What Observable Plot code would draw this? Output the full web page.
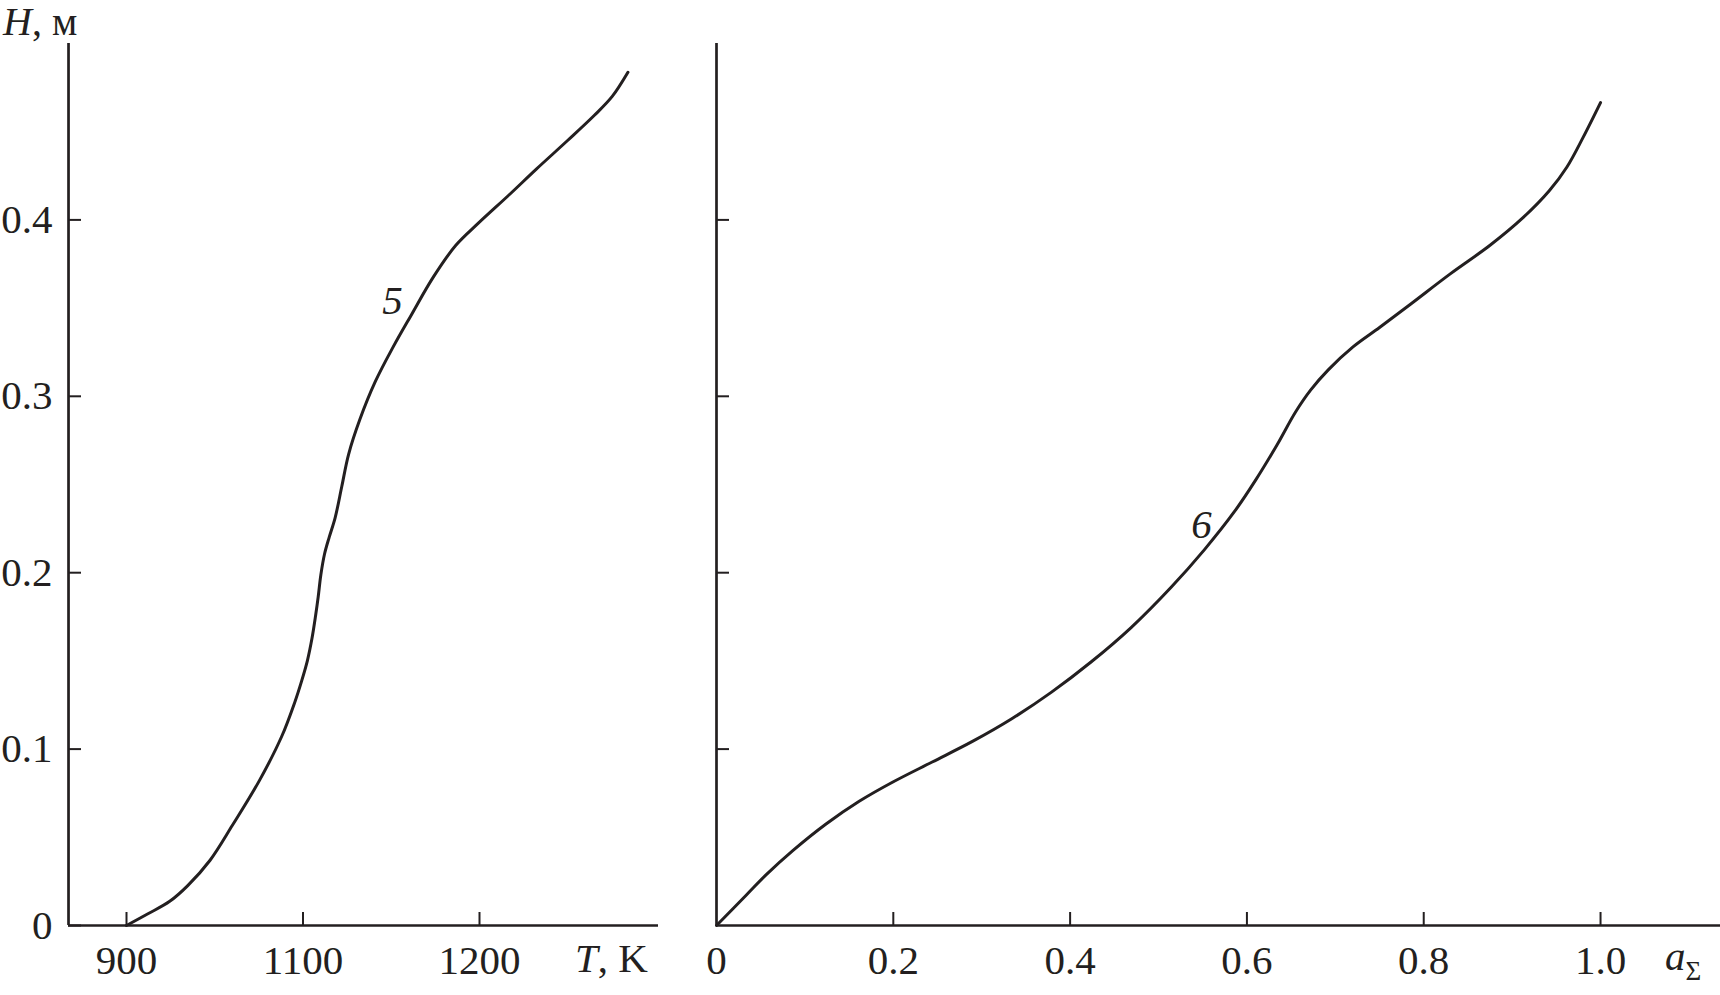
<!DOCTYPE html>
<html>
<head>
<meta charset="utf-8">
<script src="https://cdn.jsdelivr.net/npm/d3@7"></script>
<script src="https://cdn.jsdelivr.net/npm/@observablehq/plot@0.6"></script>
<style>
  html, body { margin: 0; padding: 0; background: #fff; }
  #wrap { position: relative; width: 1720px; height: 995px; background: #fff; overflow: hidden; }
  #wrap svg { position: absolute; top: 0; }
</style>
</head>
<body>
<div id="wrap"></div>
<script>
// ---- Data ----
// Curve 5: height H (m) versus temperature T (K)
const curve5T = [900, 923.8, 949, 969.4, 994.7, 1020, 1050.4, 1075.7, 1090.9, 1098.5, 1102.5, 1105.1, 1107.1, 1108.6, 1110.1, 1112.2, 1114.9, 1118.2, 1122, 1125.8, 1132.2, 1141, 1151.1, 1161.3, 1173.9, 1186.6, 1199.2, 1217, 1232.2, 1249.9, 1265.1, 1275.2, 1284.1];
const curve5H = [0, 0.0065, 0.0137, 0.0226, 0.037, 0.0568, 0.082, 0.107, 0.1269, 0.1387, 0.1502, 0.1628, 0.1754, 0.1862, 0.1987, 0.2106, 0.2203, 0.2311, 0.249, 0.267, 0.2868, 0.3084, 0.328, 0.346, 0.3677, 0.3856, 0.398, 0.4144, 0.4288, 0.445, 0.4593, 0.470, 0.4837];
// Curve 6: height H (m) versus a_Σ
const curve6A = [0, 0.0338, 0.0563, 0.0863, 0.1239, 0.1614, 0.199, 0.244, 0.289, 0.334, 0.379, 0.424, 0.469, 0.514, 0.552, 0.586, 0.61, 0.634, 0.655, 0.672, 0.692, 0.72, 0.75, 0.785, 0.830, 0.875, 0.912, 0.942, 0.962, 0.980, 1.0];
const curve6H = [0, 0.0173, 0.0288, 0.0424, 0.0575, 0.0704, 0.0812, 0.0927, 0.1042, 0.1172, 0.1323, 0.1495, 0.1689, 0.1916, 0.2131, 0.2347, 0.2526, 0.2724, 0.2911, 0.3035, 0.315, 0.328, 0.339, 0.3522, 0.3694, 0.3856, 0.4011, 0.4165, 0.4300, 0.4465, 0.4665];

// Ticks and tick labels
const hTicks = [0, 0.1, 0.2, 0.3, 0.4];
const hTickLabels = ["0", "0.1", "0.2", "0.3", "0.4"];
const tTicks = [900, 1100, 1200];
const tTickLabels = ["900", "1100", "1200"];
const aTicks = [0, 0.2, 0.4, 0.6, 0.8, 1.0];
const aTickLabels = ["0", "0.2", "0.4", "0.6", "0.8", "1.0"];

// Axis extents
const hDomain = [0, 0.5];
const tAxisStart = 834.3;     // left end of the T axis (axis line position)
const aDomain = [0, 1.1357];

// Curve labels
const curveLabels5 = [{T: 1150.7, H: 0.3543, text: "5"}];
const curveLabels6 = [{a: 0.5486, H: 0.2273, text: "6"}];

// ---- Rendering ----
const ink = "#231f20";
const font = "'Liberation Serif', 'Times New Roman', serif";
const fs = 41;

const data5 = curve5T.map((t, i) => ({T: t, H: curve5H[i]}));
const data6 = curve6A.map((a, i) => ({a, H: curve6H[i]}));

const baseStyle = {fontFamily: font, fontSize: fs + "px", color: ink, background: "transparent", overflow: "visible"};

const left = Plot.plot({
  width: 680, height: 995,
  marginLeft: 68, marginRight: 22, marginTop: 43, marginBottom: 70,
  style: baseStyle,
  x: {type: "linear", domain: tTicks, range: [126, 302.5, 479]},
  y: {domain: hDomain},
  marks: [
    Plot.ruleY([0], {stroke: ink, strokeWidth: 2.7}),
    Plot.ruleX([tAxisStart], {stroke: ink, strokeWidth: 2.7}),
    Plot.axisX(tTicks, {anchor: "bottom", tickSize: 13, dy: -13, tickPadding: 19, stroke: ink, strokeWidth: 2, fill: ink,
      tickFormat: (d) => tTickLabels[tTicks.indexOf(d)], label: null}),
    Plot.axisY(hTicks, {anchor: "left", tickSize: 13, dx: 13, tickPadding: 16, stroke: ink, strokeWidth: 2, fill: ink,
      tickFormat: (d) => hTickLabels[hTicks.indexOf(d)], label: null}),
    Plot.line(data5, {x: "T", y: "H", curve: "catmull-rom", stroke: ink, strokeWidth: 3}),
    Plot.text(curveLabels5, {x: "T", y: "H", text: "text", fontStyle: "italic", fill: ink, fontSize: fs})
  ]
});

const right = Plot.plot({
  width: 1040, height: 995,
  marginLeft: 36, marginRight: 0, marginTop: 43, marginBottom: 70,
  style: baseStyle,
  x: {domain: aDomain},
  y: {domain: hDomain},
  marks: [
    Plot.ruleY([0], {stroke: ink, strokeWidth: 2.7}),
    Plot.ruleX([aDomain[0]], {stroke: ink, strokeWidth: 2.7}),
    Plot.axisX(aTicks.filter(d => d > 0), {anchor: "bottom", tickSize: 13, dy: -13, stroke: ink, strokeWidth: 2, fill: "none", label: null}),
    Plot.axisX(aTicks, {anchor: "bottom", tickSize: 0, tickPadding: 19, fill: ink,
      tickFormat: (d) => aTickLabels[aTicks.indexOf(d)], label: null}),
    Plot.axisY(hTicks.filter(d => d > 0), {anchor: "left", tickSize: 13, dx: 13, stroke: ink, strokeWidth: 2, fill: "none", label: null}),
    Plot.line(data6, {x: "a", y: "H", curve: "catmull-rom", stroke: ink, strokeWidth: 3}),
    Plot.text(curveLabels6, {x: "a", y: "H", text: "text", fontStyle: "italic", fill: ink, fontSize: fs})
  ]
});

left.style.left = "0px";
right.style.left = "680px";
const wrap = document.getElementById("wrap");
wrap.appendChild(left);
wrap.appendChild(right);

// Axis titles with mixed italic / upright parts
function addLabel(svg, x, y, size, parts) {
  const t = d3.select(svg).append("text")
    .attr("x", x).attr("y", y)
    .attr("fill", ink)
    .attr("text-anchor", "start")
    .attr("font-family", font)
    .attr("font-size", size);
  parts.forEach(p => {
    const s = t.append("tspan").text(p.text);
    if (p.italic) s.attr("font-style", "italic");
    if (p.size) s.attr("font-size", p.size);
    if (p.dy) s.attr("dy", p.dy);
  });
}
addLabel(left, 3, 35, 40, [{text: "H", italic: true}, {text: ", м"}]);
addLabel(left, 575, 972, fs, [{text: "T", italic: true}, {text: ", K"}]);
addLabel(right, 985, 970, fs, [{text: "a", italic: true}, {text: "Σ", size: 27, dy: 10}]);
</script>
</body>
</html>
